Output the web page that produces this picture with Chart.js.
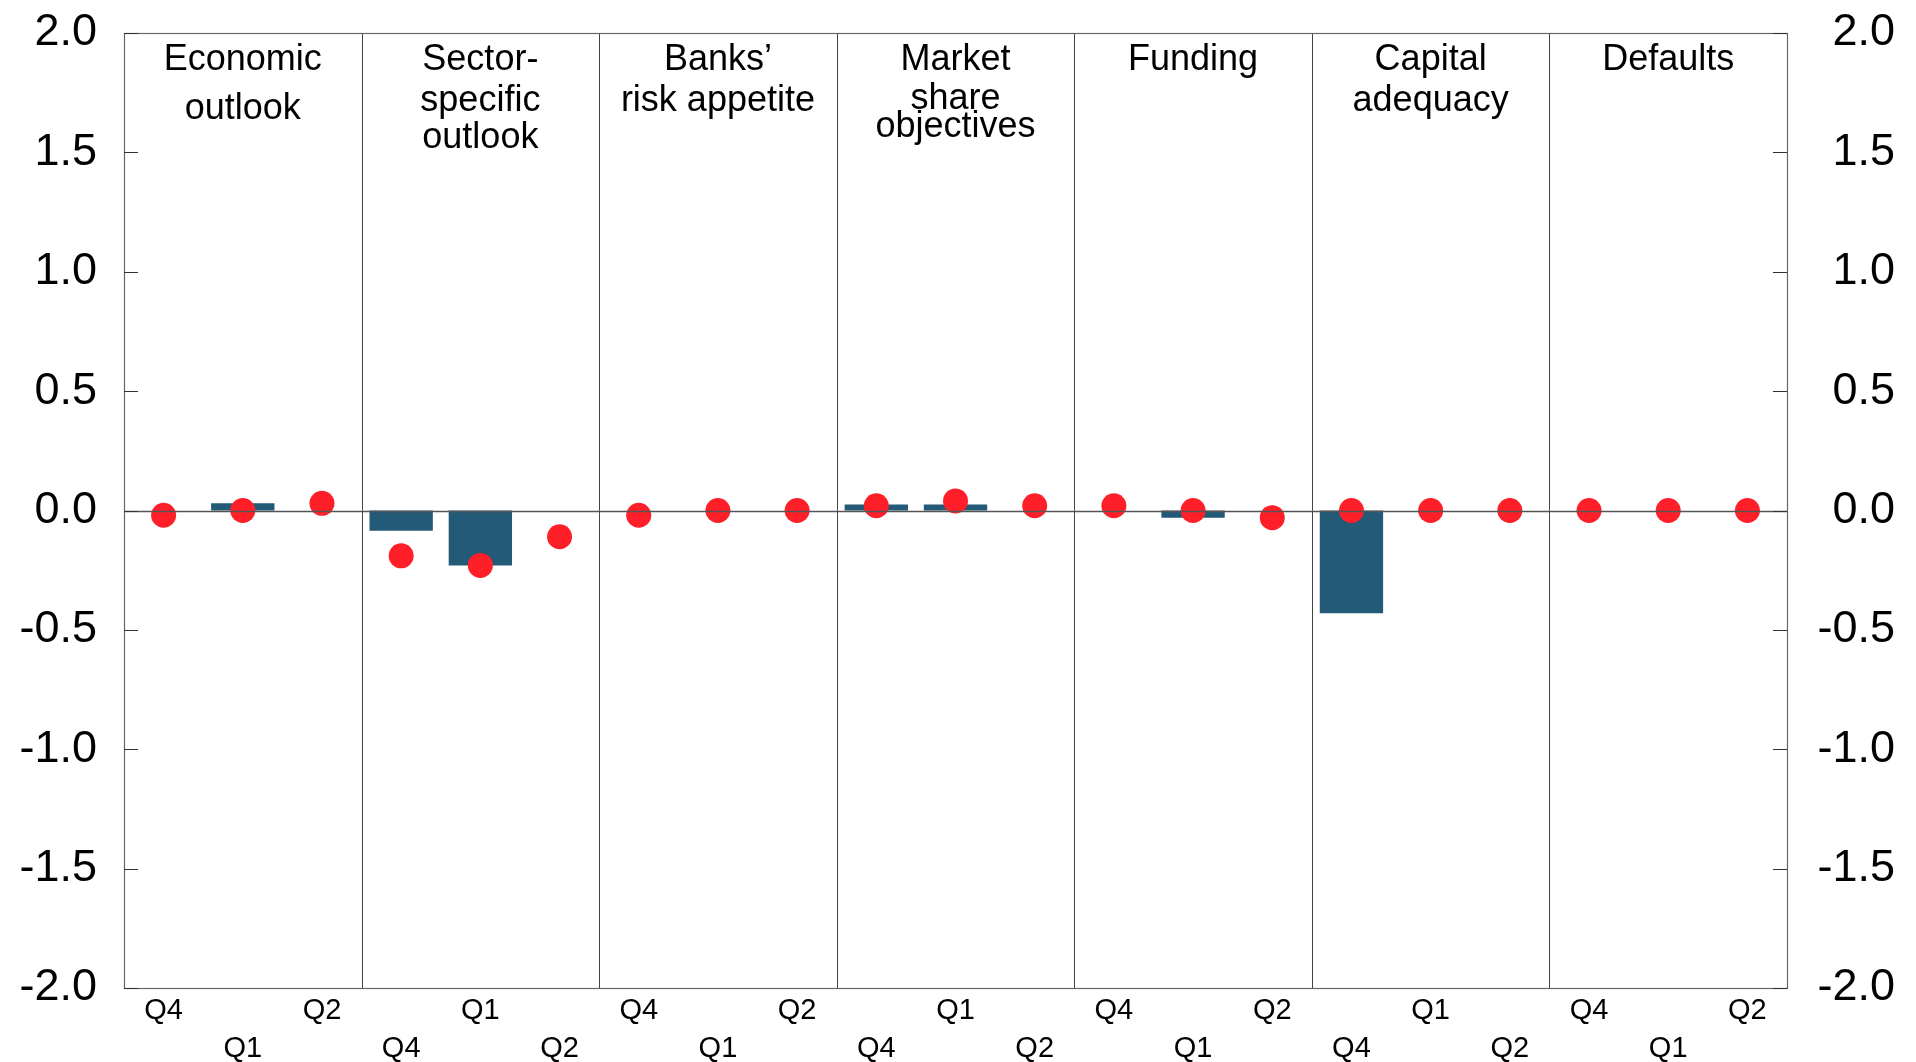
<!DOCTYPE html>
<html>
<head>
<meta charset="utf-8">
<script src="https://cdn.jsdelivr.net/npm/chart.js@4.4.0/dist/chart.umd.min.js"></script>
<style>
html,body{margin:0;padding:0;background:#fff;}
#wrap{width:1916px;height:1062px;position:relative;}
</style>
</head>
<body>
<div id="wrap"><canvas id="c"></canvas></div>
<script>
const quarters = ['Q4','Q1','Q2','Q4','Q1','Q2','Q4','Q1','Q2','Q4','Q1','Q2','Q4','Q1','Q2','Q4','Q1','Q2','Q4','Q1','Q2'];
const groupTitles = [
  ['Economic','outlook'],
  ['Sector-','specific','outlook'],
  ['Banks\u2019','risk appetite'],
  ['Market','share','objectives'],
  ['Funding'],
  ['Capital','adequacy'],
  ['Defaults']
];
const barValues = [0, 0.03, 0, -0.085, -0.23, 0, 0, 0, 0, 0.025, 0.025, 0, 0, -0.03, 0, -0.43, 0, 0, 0, 0, 0];
const dotValues = [-0.02, 0, 0.03, -0.19, -0.23, -0.11, -0.02, 0, 0, 0.02, 0.04, 0.02, 0.02, 0, -0.03, 0, 0, 0, 0, 0, 0];
const yTicks = [-2.0, -1.5, -1.0, -0.5, 0.0, 0.5, 1.0, 1.5, 2.0];

const FONT = "'Liberation Sans', Arial, sans-serif";

// per-group header baselines (pixel offsets from top of chart area)
const headerBaselines = [[37, 86], [37, 78, 115], [37, 78], [37, 76, 104], [37], [37, 78], [37]];

const framePlugin = {
  id: 'frame',
  afterDatasetsDraw(chart) {
    const {ctx, chartArea: a, scales} = chart;
    const x = scales.x, y = scales.y;
    ctx.save();
    const y0 = Math.round(y.getPixelForValue(0)) + 0.5;
    ctx.strokeStyle = '#555';
    ctx.lineWidth = 1.5;
    ctx.beginPath(); ctx.moveTo(a.left, y0); ctx.lineTo(a.right, y0); ctx.stroke();
    ctx.strokeStyle = '#444';
    ctx.lineWidth = 1;
    for (let g = 1; g < groupTitles.length; g++) {
      const px = Math.round((x.getPixelForValue(g * 3 - 1) + x.getPixelForValue(g * 3)) / 2) + 0.5;
      ctx.beginPath(); ctx.moveTo(px, a.top); ctx.lineTo(px, a.bottom); ctx.stroke();
    }
    ctx.strokeStyle = '#666';
    ctx.lineWidth = 1.2;
    ctx.strokeRect(Math.round(a.left) + 0.5, Math.round(a.top) + 0.5, Math.round(a.right - a.left), Math.round(a.bottom - a.top));
    ctx.strokeStyle = '#333';
    ctx.lineWidth = 1.2;
    yTicks.forEach(v => {
      const py = Math.round(y.getPixelForValue(v)) + 0.5;
      ctx.beginPath();
      ctx.moveTo(a.left, py); ctx.lineTo(a.left + 14, py);
      ctx.moveTo(a.right - 14, py); ctx.lineTo(a.right, py);
      ctx.stroke();
    });
    ctx.fillStyle = '#000';
    ctx.font = '36px ' + FONT;
    ctx.textAlign = 'center';
    ctx.textBaseline = 'alphabetic';
    groupTitles.forEach((lines, g) => {
      const cx = x.getPixelForValue(g * 3 + 1);
      lines.forEach((t, i) => {
        ctx.fillText(t, cx, a.top + headerBaselines[g][i]);
      });
    });
    ctx.restore();
  }
};

function noVPad(s) { s.paddingTop = 0; s.paddingBottom = 0; }

new Chart(document.getElementById('c'), {
  type: 'bar',
  data: {
    labels: quarters,
    datasets: [
      {
        type: 'line',
        data: dotValues,
        showLine: false,
        pointRadius: 12.5,
        pointHoverRadius: 12.5,
        pointBackgroundColor: '#fe1f28',
        pointBorderWidth: 0,
        borderColor: '#fe1f28',
        order: 0,
        yAxisID: 'y'
      },
      {
        type: 'bar',
        data: barValues,
        backgroundColor: '#235a78',
        borderWidth: 0,
        barPercentage: 0.8,
        categoryPercentage: 1.0,
        order: 1,
        yAxisID: 'y'
      }
    ]
  },
  options: {
    responsive: true,
    maintainAspectRatio: false,
    animation: false,
    layout: {padding: {top: 33, left: 0, right: 21, bottom: 0}},
    plugins: {legend: {display: false}, tooltip: {enabled: false}},
    scales: {
      x: {
        offset: true,
        grid: {display: false, drawTicks: false},
        border: {display: false},
        ticks: {
          autoSkip: false,
          maxRotation: 0,
          padding: 4,
          color: '#000',
          font: {family: FONT, size: 29, lineHeight: 1.3},
          callback: (v, i) => (i % 2 === 0 ? [quarters[i], ''] : ['', quarters[i]])
        },
        afterFit: s => { s.height = 74; s.paddingLeft = 0; s.paddingRight = 0; }
      },
      y: {
        position: 'left',
        min: -2, max: 2,
        grid: {display: false, drawTicks: false},
        border: {display: false},
        ticks: {
          stepSize: 0.5,
          padding: 27,
          color: '#000',
          font: {family: FONT, size: 45},
          callback: v => v.toFixed(1)
        },
        afterFit: s => { s.width = 124; noVPad(s); }
      },
      y2: {
        position: 'right',
        min: -2, max: 2,
        grid: {display: false, drawTicks: false},
        border: {display: false},
        ticks: {
          stepSize: 0.5,
          padding: 1,
          crossAlign: 'far',
          color: '#000',
          font: {family: FONT, size: 45},
          callback: v => v.toFixed(1)
        },
        afterFit: s => { s.width = 108; noVPad(s); }
      }
    }
  },
  plugins: [framePlugin]
});
</script>
</body>
</html>
